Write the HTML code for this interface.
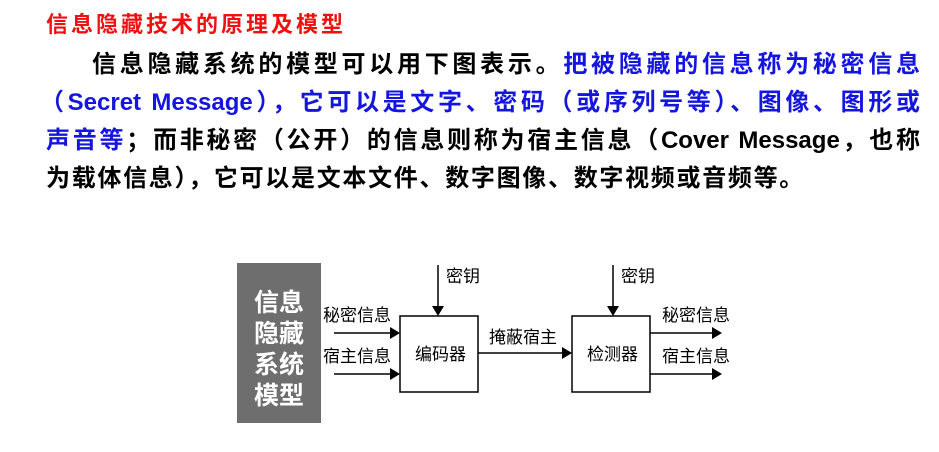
<!DOCTYPE html>
<html><head><meta charset="utf-8"><style>
body{margin:0;width:939px;height:452px;background:#fff;position:relative;overflow:hidden;font-family:"Liberation Sans","Noto Sans CJK SC",sans-serif;}
.t{position:absolute;white-space:nowrap;font-weight:bold;}
.j{text-align:justify;text-align-last:justify;white-space:normal;}
.b{color:#1515e0}
</style></head><body>
<div class="t" style="left:46px;top:7px;font-size:22px;letter-spacing:3px;color:#f01010;">信息隐藏技术的原理及模型</div>
<div class="t j" style="left:92px;width:828px;top:50px;font-size:24px;line-height:30px;height:30px;overflow:hidden;">信息隐藏系统的模型可以用下图表示。<span class="b">把被隐藏的信息称为秘密信息</span></div>
<div class="t j b" style="left:40px;width:880px;top:88px;font-size:24px;line-height:30px;height:30px;overflow:hidden;">（Secret Message），它可以是文字、密码（或序列号等）、图像、图形或</div>
<div class="t j" style="left:46px;width:874px;top:126px;font-size:24px;line-height:30px;height:30px;overflow:hidden;"><span class="b">声音等</span>；而非秘密（公开）的信息则称为宿主信息（Cover Message，也称</div>
<div class="t" style="left:46px;top:164px;font-size:24px;line-height:30px;letter-spacing:1.7px;">为载体信息），它可以是文本文件、数字图像、数字视频或音频等。</div>
<div style="position:absolute;left:237px;top:263px;width:84px;height:160px;background:#6e6e6e;"></div>
<div class="t" style="left:237px;top:288px;width:84px;text-align:center;color:#fff;font-size:25px;line-height:31px;white-space:normal;">信息<br>隐藏<br>系统<br>模型</div>
<svg width="939" height="452" style="position:absolute;left:0;top:0" font-family="Liberation Sans,Noto Sans CJK SC,sans-serif" font-size="17">
<g stroke="#000" stroke-width="1.5" fill="none">
<rect x="400" y="316" width="78" height="76"/>
<rect x="572" y="316" width="78" height="76"/>
<line x1="334" y1="333" x2="392" y2="333"/><line x1="334" y1="374" x2="392" y2="374"/>
<line x1="478" y1="353" x2="564" y2="353"/>
<line x1="650" y1="333" x2="714" y2="333"/><line x1="650" y1="374" x2="714" y2="374"/>
<line x1="438" y1="265" x2="438" y2="308"/><line x1="613" y1="265" x2="613" y2="308"/>
</g>
<g fill="#000">
<polygon points="390,327 400,333 390,339"/><polygon points="390,368 400,374 390,380"/>
<polygon points="562,347 572,353 562,359"/>
<polygon points="712,327 722,333 712,339"/><polygon points="712,368 722,374 712,380"/>
<polygon points="432,306 444,306 438,316"/><polygon points="607,306 619,306 613,316"/>
<text x="323" y="321">秘密信息</text><text x="323" y="362">宿主信息</text>
<text x="446" y="282">密钥</text><text x="621" y="282">密钥</text>
<text x="415" y="360">编码器</text><text x="587" y="360">检测器</text>
<text x="489" y="343">掩蔽宿主</text>
<text x="662" y="321">秘密信息</text><text x="662" y="362">宿主信息</text>
</g></svg>
</body></html>
